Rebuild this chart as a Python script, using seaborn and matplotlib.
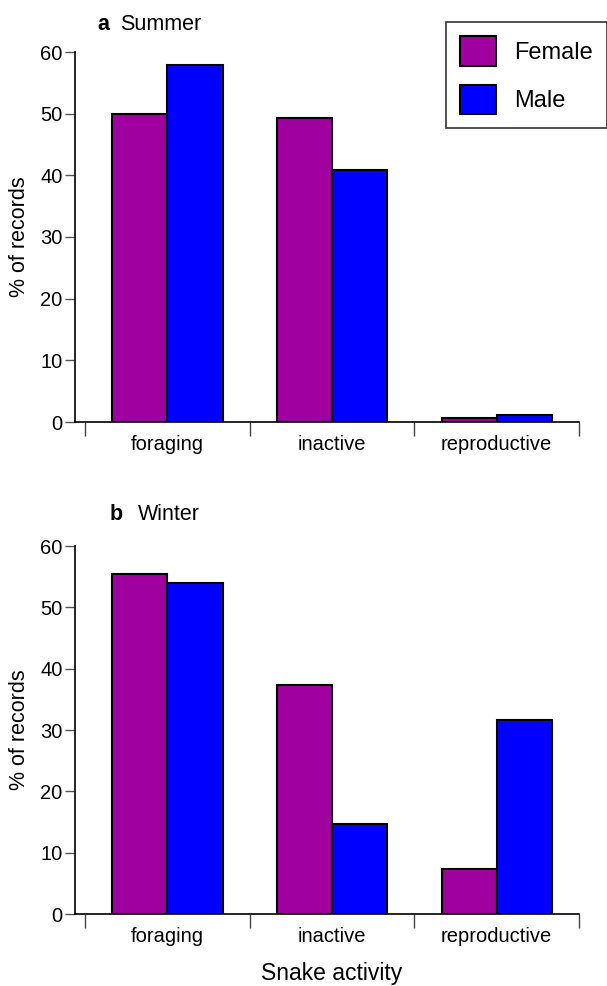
import pandas as pd
import matplotlib.pyplot as plt
import seaborn as sns
from matplotlib.ticker import FixedLocator

# values (% of records)
activities = ["foraging", "inactive", "reproductive"]
sexes = ["Female", "Male"]
summer_female = [50.0, 49.3, 0.6]
summer_male = [57.9, 40.9, 1.2]
winter_female = [55.4, 37.3, 7.3]
winter_male = [53.9, 14.6, 31.6]
yticks = [0, 10, 20, 30, 40, 50, 60]

colors = {"Female": "#a0009f", "Male": "#0000ff"}


def to_long(female, male):
    rows = []
    for act, f, m in zip(activities, female, male):
        rows.append({"activity": act, "sex": "Female", "pct": f})
        rows.append({"activity": act, "sex": "Male", "pct": m})
    return pd.DataFrame(rows)


sns.set_style("ticks")
plt.rcParams["font.family"] = ["Liberation Sans", "DejaVu Sans"]
plt.rcParams["text.color"] = "black"
plt.rcParams["xtick.labelcolor"] = "black"
plt.rcParams["ytick.labelcolor"] = "black"

W, H = 607, 986
fig = plt.figure(figsize=(W / 100, H / 100), dpi=100)

left = 75 / W
width = (579 - 75) / W
ax_top = fig.add_axes([left, 1 - 422 / H, width, 370 / H])
ax_bot = fig.add_axes([left, 1 - 914 / H, width, 368 / H])

panels = [
    (ax_top, to_long(summer_female, summer_male)),
    (ax_bot, to_long(winter_female, winter_male)),
]

for ax, df in panels:
    sns.barplot(data=df, x="activity", y="pct", hue="sex", order=activities,
                hue_order=sexes, palette=colors, edgecolor="black",
                linewidth=1.5, width=0.67, saturation=1, ax=ax)
    ax.get_legend().remove()
    ax.set_xlim(-0.561, 2.5)
    ax.set_ylim(0, 60)
    ax.set_yticks(yticks)
    ax.set_xlabel("")
    ax.set_ylabel("")
    ax.xaxis.set_minor_locator(FixedLocator([-0.5, 0.5, 1.5, 2.5]))
    ax.tick_params(axis="x", which="major", length=0, pad=9, labelsize=14.5)
    ax.tick_params(axis="x", which="minor", length=10, width=1, color="#444444")
    ax.tick_params(axis="y", length=7, width=1, color="#555555", pad=2,
                   labelsize=14.5)
    for side in ["top", "right"]:
        ax.spines[side].set_visible(False)
    for side in ["left", "bottom"]:
        ax.spines[side].set_linewidth(1.2)
        ax.spines[side].set_color("black")
    fig.text(20 / W, (ax.get_position().y0 + ax.get_position().y1) / 2,
             "% of records", rotation=90, ha="center", va="center",
             fontsize=15.5)

# panel titles
fig.text(97 / W, 1 - 30 / H, "a", fontsize=15.5, fontweight="bold", va="baseline")
fig.text(120 / W, 1 - 30 / H, "Summer", fontsize=15.5, va="baseline")
fig.text(110 / W, 1 - 520 / H, "b", fontsize=15.5, fontweight="bold", va="baseline")
fig.text(138 / W, 1 - 520 / H, "Winter", fontsize=15.5, va="baseline")

fig.text(332 / W, 1 - 980 / H, "Snake activity", fontsize=16.5, ha="center",
         va="baseline")

handles, labels = ax_top.get_legend_handles_labels()
leg = fig.legend(handles, labels, loc="upper left",
                 bbox_to_anchor=(446 / W, 1 - 22 / H), fontsize=17,
                 handlelength=1.5, handleheight=1.55, labelspacing=0.8,
                 handletextpad=0.8, borderpad=0.6, borderaxespad=0,
                 frameon=True, fancybox=False, edgecolor="black")
leg.get_frame().set_linewidth(1.2)

fig.savefig("out.png", dpi=100)
